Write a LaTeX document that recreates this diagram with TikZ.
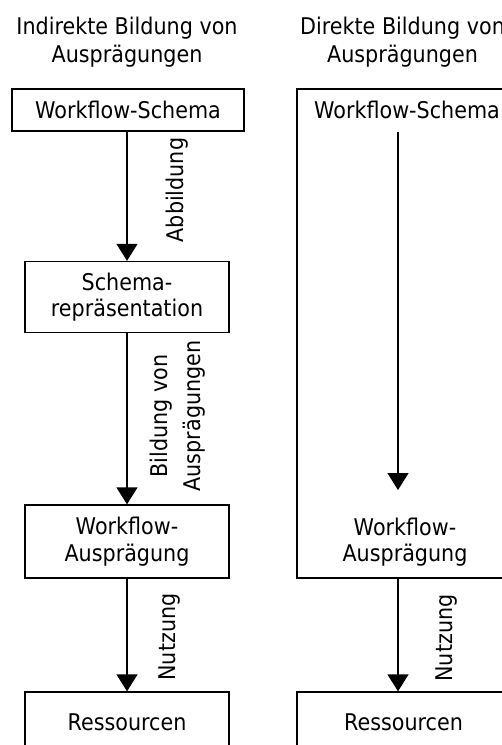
\documentclass[tikz,border=0pt]{standalone}
\usepackage{fontspec}
\setmainfont[FakeStretch=0.9]{DejaVu Sans}
\usetikzlibrary{arrows.meta}
\begin{document}
\begin{tikzpicture}[x=0.75pt,y=-0.75pt,
  txt/.style={font=\fontsize{17.25}{20}\selectfont, align=center, inner sep=0pt},
  box/.style={txt, draw, line width=1pt, minimum width=153pt},
  flow/.style={line width=1pt, -{Triangle[length=12.75pt,width=15.75pt]}},
  lbl/.style={txt, rotate=90, font=\fontsize{17.25}{24.75}\selectfont}]
  \useasboundingbox (0,0) rectangle (502,745);
  \clip (0,0) rectangle (502,745);

  % column titles
  \node[txt, font=\fontsize{17.25}{21.3}\selectfont] (t1) at (127,42) {Indirekte Bildung von\\Ausprägungen};
  \node[txt, font=\fontsize{17.25}{21.3}\selectfont] (t2) at (402.5,42) {Direkte Bildung von\\Ausprägungen};

  % indirect path
  \node[box, minimum width=174pt, minimum height=31.5pt] (ws) at (128,110) {Workflow-Schema};
  \node[box, minimum height=53.25pt] (sr) at (127,297) {Schema-\\repräsentation};
  \node[box, minimum height=54.75pt] (wa) at (127,541.5) {Workflow-\\Ausprägung};
  \node[box, minimum height=45pt] (rs) at (127,722) {Ressourcen};

  \draw[flow] (sr.north |- ws.south) -- (sr.north);
  \draw[flow] (sr.south) -- (wa.north);
  \draw[flow] (wa.south) -- (rs.north);

  \node[lbl] (l1) at (177,190) {Abbildung};
  \node[lbl] (l2) at (178,416) {Bildung von\\Ausprägungen};
  \node[lbl] (l3) at (170,637) {Nutzung};

  % direct path
  \node[draw, line width=1pt, minimum width=159.75pt, minimum height=366.75pt, inner sep=0pt] (rbox) at (403.5,333.5) {};
  \node[txt] (rws) at (407,110) {Workflow-Schema};
  \node[txt] (rwa) at (405,542) {Workflow-\\Ausprägung};
  \coordinate (ra) at (398,132);
  \coordinate (rb) at (398,490);
  \draw[flow] (ra) -- (rb);
  \node[box, minimum width=159.75pt, minimum height=45pt] (rrs) at (403.5,722) {Ressourcen};
  \draw[flow] (rbox.south -| ra) -- (rrs.north -| ra);
  \node[lbl] (l4) at (447,638) {Nutzung};
\end{tikzpicture}
\end{document}
